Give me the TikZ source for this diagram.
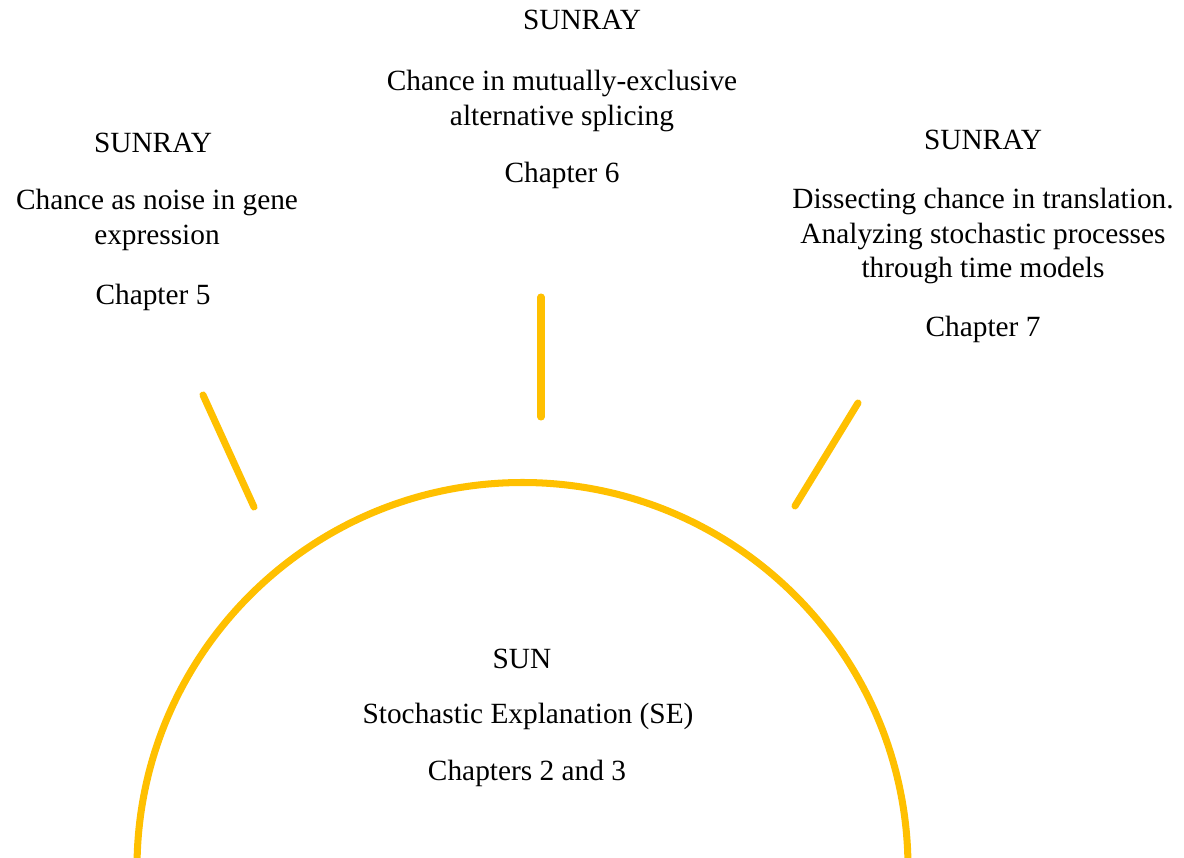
\documentclass[tikz,border=0pt]{standalone}
\usepackage{fontspec}
\setmainfont{Liberation Serif}
\usepackage{tikz}
\usetikzlibrary{positioning}
\definecolor{sungold}{RGB}{255, 192, 0}

\begin{document}
\begin{tikzpicture}[x=0.02cm, y=-0.02cm,
  txt/.style={font=\fontsize{16.7}{19.6}\selectfont, align=center, inner sep=0pt},
  ray/.style={draw=sungold, line width=4pt, line cap=round}]
  \useasboundingbox (0,0) rectangle (1184,858);

  % Sun
  \begin{scope}
    \clip (0,0) rectangle (1184,858);
    \draw[ray] (137,868) arc[start angle=180, end angle=360, radius=385.5];
  \end{scope}

  % Rays
  \coordinate (leftout) at (203,395);
  \coordinate (leftin) at (254,507);
  \coordinate (midout) at (541,297);
  \coordinate (midin) at (541,417);
  \coordinate (rightout) at (858,403);
  \coordinate (rightin) at (795,506);
  \draw[ray] (leftout) -- (leftin);
  \draw[ray] (midout) -- (midin);
  \draw[ray] (rightout) -- (rightin);

  % Left sunray
  \node[txt] (sunrayleft) at (153,143) {SUNRAY};
  \node[txt] (topicleft) at (157,220) {Chance as noise in gene\\expression};
  \node[txt] (chapleft) at (153,297) {Chapter 5};

  % Middle sunray
  \node[txt] (sunraymid) at (582,20) {SUNRAY};
  \node[txt] (topicmid) at (562,101) {Chance in mutually-exclusive\\alternative splicing};
  \node[txt] (chapmid) at (562,175) {Chapter 6};

  % Right sunray
  \node[txt] (sunrayright) at (983,140) {SUNRAY};
  \node[txt] (topicright) at (983,236) {Dissecting chance in translation.\\Analyzing stochastic processes\\through time models};
  \node[txt] (chapright) at (983,329) {Chapter 7};

  % Sun text
  \node[txt] (sun) at (522,659) {SUN};
  \node[txt] (sunse) at (528,716) {Stochastic Explanation (SE)};
  \node[txt] (sunchap) at (527,773) {Chapters 2 and 3};
\end{tikzpicture}
\end{document}
